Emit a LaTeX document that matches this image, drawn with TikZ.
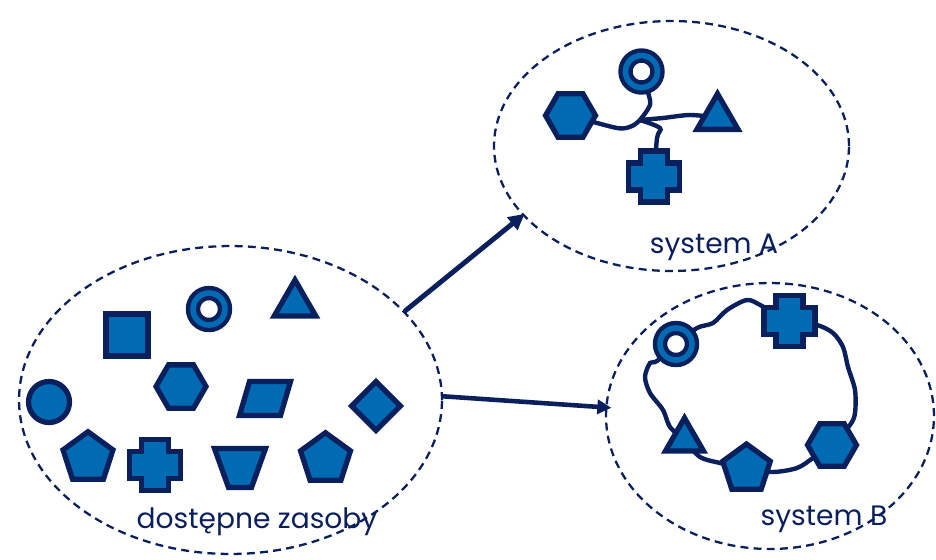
\documentclass[tikz,border=0pt]{standalone}
\usepackage{fontspec}
\usepackage{tikz}
\usetikzlibrary{shapes.geometric,arrows.meta,backgrounds}
\newfontfamily\labelfont{Poppins}
\definecolor{resblue}{RGB}{0,107,178}
\definecolor{navy}{RGB}{10,32,92}

\begin{document}
\begin{tikzpicture}[x=0.02cm,y=-0.02cm,
  res/.style={draw=navy,fill=resblue,line width=3pt,inner sep=0pt},
  poly/.style={res,regular polygon,regular polygon sides=#1},
  ring/.style={circle,draw=navy,fill=white,double=resblue,double distance=3.2pt,line width=2.5pt,minimum size=0.64cm,inner sep=0pt},
  wire/.style={navy,line width=2.5pt},
  group/.style={ellipse,draw=navy,line width=1.3pt,dash pattern=on 4.5pt off 3pt,inner sep=0pt},
  caption/.style={text=navy,font=\labelfont\fontsize{16}{19}\selectfont,anchor=base},
  plus/.pic={\coordinate (-c) at (0,0);
    \draw[res] (-13.5,-25.5) -- (13.5,-25.5) -- (13.5,-13.5) -- (25.5,-13.5) -- (25.5,13.5) -- (13.5,13.5)
      -- (13.5,25.5) -- (-13.5,25.5) -- (-13.5,13.5) -- (-25.5,13.5) -- (-25.5,-13.5) -- (-13.5,-13.5) -- cycle;},
  slab/.pic={\coordinate (-c) at (0,0);
    \draw[res] (-25.5,17) -- (15.5,17) -- (25.5,-17) -- (-15.5,-17) -- cycle;},
  bucket/.pic={\coordinate (-c) at (0,0);
    \draw[res] (-25.5,-19.5) -- (25.5,-19.5) -- (11.5,19.5) -- (-11.5,19.5) -- cycle;}]
\useasboundingbox (0,0) rectangle (936,559);

\node[group,minimum width=8.46cm,minimum height=6.16cm] (L) at (230.5,400) {};
\node[group,minimum width=7.1cm,minimum height=5.0cm] (A) at (671.5,146) {};
\node[group,minimum width=6.56cm,minimum height=5.32cm] (B) at (770,416) {};

\node[res,minimum size=0.84cm] (sq) at (127,335) {};
\node[ring] (r) at (209,309) {};
\node[poly=3,minimum size=0.96cm] (t) at (295,304) {};
\node[res,circle,minimum size=0.82cm] (o) at (49,402) {};
\node[poly=6,minimum size=1cm] (h) at (181,386.5) {};
\pic (pg) at (265,398.5) {slab};
\node[res,diamond,minimum size=1.02cm] (d) at (376,406) {};
\node[poly=5,minimum size=1.05cm] (p) at (88,458) {};
\pic (c) at (155,465) {plus};
\pic (tz) at (240,468) {bucket};
\node[poly=5,minimum size=1.05cm] (q) at (325.5,459) {};
\node[caption] (lL) at (257,528) {dostępne zasoby};

\node[ring] (rA) at (641.5,71.5) {};
\node[poly=6,minimum size=1cm] (hA) at (570.5,115.5) {};
\node[poly=3,minimum size=0.95cm] (tA) at (717.5,117.5) {};
\pic (cA) at (654,176.5) {plus};
\coordinate (j) at (640,120);
\node[caption] (lA) at (714,253) {system A};

\node[ring] (rB) at (676,344) {};
\pic (cB) at (789.5,321) {plus};
\node[poly=3,minimum size=0.88cm] (tB) at (684.5,440) {};
\node[poly=5,minimum size=1.0cm] (pB) at (746.5,469) {};
\node[poly=6,minimum size=0.98cm] (hB) at (832,445) {};
\node[caption] (lB) at (824,525) {system B};

\begin{pgfonlayer}{background}
\draw[wire] plot[smooth] coordinates {(hA) (617,128) (632,126) (j)};
\draw[wire] plot[smooth] coordinates {(j) (648,109) (650,100) (rA)};
\draw[wire] plot[smooth] coordinates {(j) (663,118) (690,115) (tA)};
\draw[wire] plot[smooth] coordinates {(j) (660,128) (657,138) (cA-c)};
\draw[wire] plot[smooth] coordinates {(rB) (697,328) (713,323) (727,310) (747,300) (762,306) (cB-c)};
\draw[wire] plot[smooth] coordinates {(cB-c) (817,325) (833,333) (843,347) (848,367) (855,390) (855,413) (850,425) (hB)};
\draw[wire] plot[smooth] coordinates {(hB) (813,458) (797,468) (773,472) (pB)};
\draw[wire] plot[smooth] coordinates {(pB) (720,463) (700,457) (tB)};
\draw[wire] plot[smooth] coordinates {(tB) (670,427) (663,410) (650,393) (645,377) (650,363) (657,361) (rB)};
\end{pgfonlayer}

\draw[navy,line width=2.8pt,-{Triangle[length=9pt,width=9pt]},shorten >=-1.5pt] (L.27) -- (A.205);
\draw[navy,line width=2.6pt,-{Triangle[length=8pt,width=8pt]},shorten >=-3.5pt] (L.1) -- (B.177);
\end{tikzpicture}
\end{document}
